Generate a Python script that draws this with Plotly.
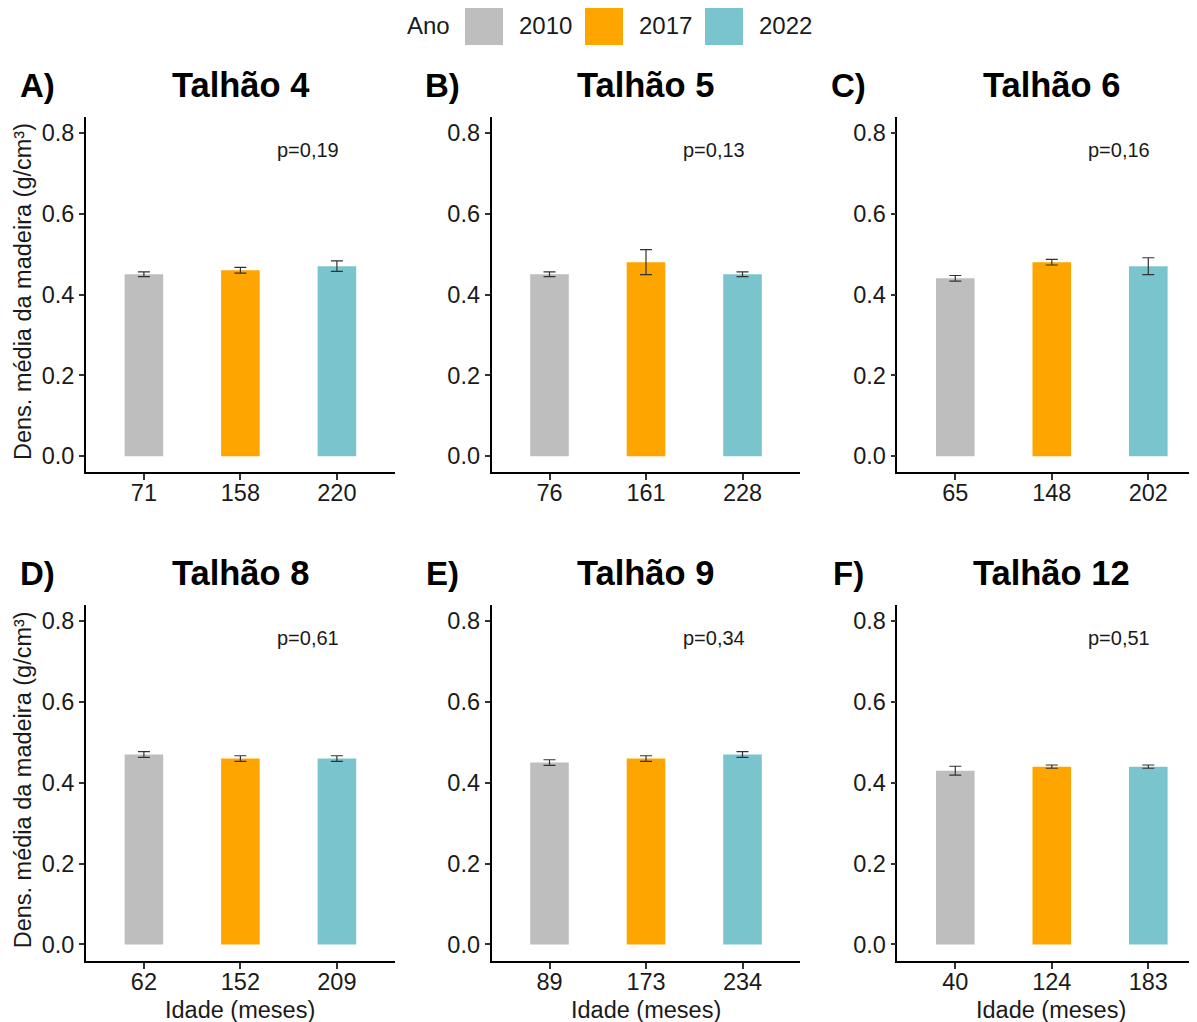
import plotly.graph_objects as go

# ---------------- data ----------------
years = ["2010", "2017", "2022"]
year_colors = ["#BEBEBE", "#FFA500", "#7AC5CD"]

panel_labels = ["A)", "B)", "C)", "D)", "E)", "F)"]
panel_titles = ["Talhão 4", "Talhão 5", "Talhão 6", "Talhão 8", "Talhão 9", "Talhão 12"]

ages_t4 = ["71", "158", "220"]
ages_t5 = ["76", "161", "228"]
ages_t6 = ["65", "148", "202"]
ages_t8 = ["62", "152", "209"]
ages_t9 = ["89", "173", "234"]
ages_t12 = ["40", "124", "183"]

dens_t4 = [0.45, 0.46, 0.47]
dens_t5 = [0.45, 0.48, 0.45]
dens_t6 = [0.44, 0.48, 0.47]
dens_t8 = [0.47, 0.46, 0.46]
dens_t9 = [0.45, 0.46, 0.47]
dens_t12 = [0.43, 0.44, 0.44]

err_t4 = [0.006, 0.007, 0.013]
err_t5 = [0.006, 0.031, 0.006]
err_t6 = [0.007, 0.007, 0.021]
err_t8 = [0.007, 0.007, 0.007]
err_t9 = [0.007, 0.007, 0.007]
err_t12 = [0.011, 0.004, 0.004]

p_values = ["p=0,19", "p=0,13", "p=0,16", "p=0,61", "p=0,34", "p=0,51"]

y_ticks = [0.0, 0.2, 0.4, 0.6, 0.8]

ages = [ages_t4, ages_t5, ages_t6, ages_t8, ages_t9, ages_t12]
dens = [dens_t4, dens_t5, dens_t6, dens_t8, dens_t9, dens_t12]
errs = [err_t4, err_t5, err_t6, err_t8, err_t9, err_t12]

# ---------------- layout helpers (page pixel -> paper) ----------------
OFF = 8  # default page body margin
W, H = 1197 - OFF, 1022 - OFF
FONT = "Liberation Sans, Arial, Helvetica, sans-serif"
TXT = "#1a1a1a"


def px(x):
    return (x - OFF) / W


def py(y):
    return 1 - (y - OFF) / H


unit = 96.5
col_px = [(86, 394.8), (491.6, 800.4), (897.4, 1197)]
row_px = [(116.7, 472.3), (605.0, 960.6)]
row_off = [0, 488.3]
col_off = [0, 405.8, 811.4]

fig = go.Figure()
layout = {}
annotations = []

for i in range(6):
    r, c = divmod(i, 3)
    n = i + 1
    xa = "x" if n == 1 else f"x{n}"
    ya = "y" if n == 1 else f"y{n}"
    fig.add_trace(go.Bar(
        x=ages[i], y=dens[i],
        marker=dict(color=year_colors, line=dict(width=0)),
        width=0.4,
        error_y=dict(type="data", array=errs[i], visible=True,
                     color="#333333", thickness=1.2, width=6),
        xaxis=xa, yaxis=ya, showlegend=False, hoverinfo="x+y",
    ))
    x0, x1 = col_px[c]
    y0, y1 = row_px[r]
    xr_end = -0.6 + (x1 - x0) / unit
    layout[f"xaxis{'' if n == 1 else n}"] = dict(
        domain=[px(x0), px(x1)], anchor=ya, type="category",
        range=[-0.6, xr_end], showline=True, linecolor="black", linewidth=1.8,
        ticks="outside", ticklen=6, tickwidth=1.6, tickcolor="#333333",
        ticklabelstandoff=-7,
        tickfont=dict(family=FONT, size=23.5, color=TXT),
        showgrid=False, zeroline=False, automargin=False, fixedrange=True,
    )
    layout[f"yaxis{'' if n == 1 else n}"] = dict(
        domain=[py(y1), py(y0)], anchor=xa,
        range=[-0.04, 0.84], showline=True, linecolor="black", linewidth=1.8,
        ticks="outside", ticklen=5, tickwidth=1.6, tickcolor="#333333",
        tickvals=y_ticks, tickformat=".1f",
        tickfont=dict(family=FONT, size=23.5, color=TXT),
        showgrid=False, zeroline=False, automargin=False, fixedrange=True,
    )
    # panel label and title
    annotations.append(dict(
        text=f"<b>{panel_labels[i]}</b>", xref="paper", yref="paper",
        x=px(37 + col_off[c]), y=py(85 + row_off[r]), showarrow=False,
        font=dict(family=FONT, size=33, color="black"),
        xanchor="center", yanchor="middle"))
    annotations.append(dict(
        text=f"<b>{panel_titles[i]}</b>", xref="paper", yref="paper",
        x=px(240 + col_off[c]),
        y=py(85 + row_off[r]), showarrow=False,
        font=dict(family=FONT, size=34.5, color="black"),
        xanchor="center", yanchor="middle"))
    # p-value
    annotations.append(dict(
        text=p_values[i], xref="paper", yref=ya,
        x=px(308 + col_off[c]),
        y=0.758, showarrow=False,
        font=dict(family=FONT, size=20, color=TXT),
        xanchor="center", yanchor="middle"))

# axis titles
for r in range(2):
    annotations.append(dict(
        text="Dens. média da madeira (g/cm³)", xref="paper", yref="paper",
        x=px(23), y=py(292 + row_off[r]), showarrow=False, textangle=-90,
        font=dict(family=FONT, size=23.5, color=TXT),
        xanchor="center", yanchor="middle"))
for c in range(3):
    annotations.append(dict(
        text="Idade (meses)", xref="paper", yref="paper",
        x=px(240 + col_off[c]), y=py(1010), showarrow=False,
        font=dict(family=FONT, size=23.5, color=TXT),
        xanchor="center", yanchor="middle"))

# legend (drawn as layout keys)
shapes = []
annotations.append(dict(
    text="Ano", xref="paper", yref="paper", x=px(452), y=py(26),
    showarrow=False, xanchor="right", yanchor="middle",
    font=dict(family=FONT, size=24, color=TXT)))
key_left = [465, 585, 705]
for k in range(3):
    shapes.append(dict(type="rect", xref="paper", yref="paper",
                       x0=px(key_left[k]), x1=px(key_left[k] + 38),
                       y0=py(45), y1=py(7),
                       fillcolor=year_colors[k], line=dict(width=0)))
    annotations.append(dict(
        text=years[k], xref="paper", yref="paper",
        x=px(key_left[k] + 52), y=py(26), showarrow=False,
        xanchor="left", yanchor="middle",
        font=dict(family=FONT, size=24, color=TXT)))

fig.update_layout(
    **layout,
    width=W, height=H,
    margin=dict(l=0, r=0, t=0, b=0),
    paper_bgcolor="white", plot_bgcolor="white",
    annotations=annotations, shapes=shapes,
    showlegend=False,
    font=dict(family=FONT),
)

fig.write_html("out.html")
